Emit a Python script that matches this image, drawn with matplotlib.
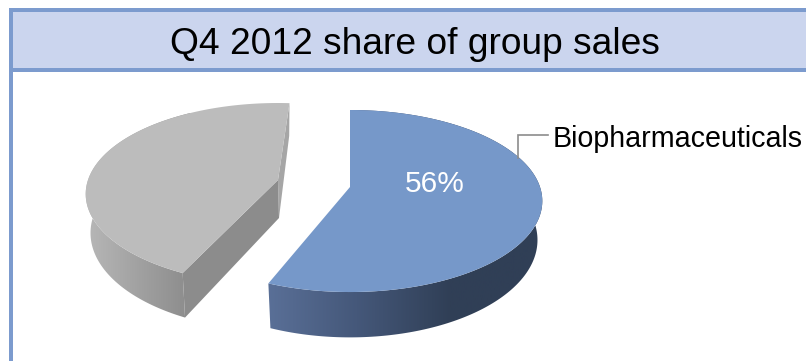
import numpy as np
import matplotlib
matplotlib.use("Agg")
import matplotlib.pyplot as plt
from matplotlib.colors import LinearSegmentedColormap
from matplotlib.patches import Polygon, Rectangle

plt.rcParams["font.family"] = ["Liberation Sans", "DejaVu Sans"]

title = "Q4 2012 share of group sales"
segment_name = "Biopharmaceuticals"
shares = [56, 44]
share_labels = ["56%"]

# ===== pie geometry, in pixels =====
RX, RY, TILT = 190.0, 88.85, 0.154
DEPTH, DEPTH_X, DEPTH_Y = 38.0, 0.975, 1.07


def rim(theta, cx, cy, lower=False):
    # perspective ellipse; lower=True gives the underside of the disc
    t = np.radians(theta)
    u, v = np.cos(t), np.sin(t)
    w = 1 + TILT * v
    dx, dy = RX * u / w, -RY * v / w
    if lower:
        return cx + dx * DEPTH_X, cy + DEPTH + dy * DEPTH_Y
    return cx + dx, cy + dy


def arc(a, b, cx, cy, lower=False):
    x, y = rim(np.linspace(a, b, 200), cx, cy, lower)
    return np.column_stack([x, y])


def gradient_fill(ax, pts, colors, x0, x1):
    # horizontal colour ramp clipped to a polygon
    cmap = LinearSegmentedColormap.from_list("side", colors)
    poly = Polygon(pts, closed=True, facecolor="none", edgecolor="none")
    ax.add_patch(poly)
    img = ax.imshow(np.linspace(0, 1, 256)[None, :], cmap=cmap, aspect="auto",
                    extent=[x0, x1, 361, 0], zorder=1)
    img.set_clip_path(poly)


fig = plt.figure(figsize=(8.06, 3.61), dpi=100)
ax = fig.add_axes([0, 0, 1, 1])

# ===== blue slice =====
blue_c = (350.0, 187.0)
blue_start = 90.0
blue_end = blue_start - shares[0] / sum(shares) * 360
blue_side = np.vstack([arc(blue_start, blue_end, *blue_c),
                       arc(blue_end, blue_start, *blue_c, lower=True)])
gradient_fill(ax, blue_side, ["#5b7199", "#45587a", "#303f56", "#303f56"], 262, 545)
blue_top = np.vstack([[blue_c], arc(blue_start, blue_end, *blue_c)])
ax.add_patch(Polygon(blue_top, closed=True, facecolor="#7698c9", edgecolor="none", zorder=3))

# ===== grey slice =====
grey_c = (278.0, 180.0)
grey_start = 86.0
grey_end = grey_start + shares[1] / sum(shares) * 360
grey_side = np.vstack([arc(grey_start, grey_end, *grey_c),
                       arc(grey_end, grey_start, *grey_c, lower=True)])
gradient_fill(ax, grey_side, ["#b8b8b8", "#8c8c8c"], 84, 190)

p_top = rim(grey_start, *grey_c)
p_end = rim(grey_end, *grey_c)
ax.add_patch(Polygon([p_top, grey_c, (grey_c[0] + 1, grey_c[1] + DEPTH),
                      rim(grey_start, *grey_c, lower=True)],
                     closed=True, facecolor="#a6a6a6", edgecolor="none", zorder=2))
ax.add_patch(Polygon([grey_c, p_end, rim(grey_end, *grey_c, lower=True),
                      (grey_c[0] + 1, grey_c[1] + DEPTH)],
                     closed=True, facecolor="#8c8c8c", edgecolor="none", zorder=2))
grey_top = np.vstack([[grey_c], arc(grey_start, grey_end, *grey_c)])
ax.add_patch(Polygon(grey_top, closed=True, facecolor="#bcbcbc", edgecolor="none", zorder=3))

# ===== title band and frame =====
ax.add_patch(Rectangle((11, 10), 795, 60, facecolor="#cbd5ee", edgecolor="none", zorder=4))
frame = "#7c9bce"
ax.add_patch(Rectangle((9, 7.5), 797, 4, facecolor=frame, edgecolor="none", zorder=5))
ax.add_patch(Rectangle((9, 68), 797, 4, facecolor=frame, edgecolor="none", zorder=5))
ax.add_patch(Rectangle((9, 7.5), 4, 354, facecolor=frame, edgecolor="none", zorder=5))
ax.text(414.5, 44, title, fontsize=26.7, color="black", ha="center", va="center", zorder=6)

# ===== labels =====
ax.plot([518, 518, 548], [158, 135, 135], color="#8c8c8c", lw=1.2, zorder=4,
        solid_joinstyle="miter")
ax.text(553, 139, segment_name, fontsize=20.6, color="black", ha="left", va="center", zorder=6)
ax.text(434.5, 183.5, share_labels[0], fontsize=21.5, color="white", ha="center", va="center", zorder=6)

ax.set_xlim(0, 806)
ax.set_ylim(361, 0)
ax.axis("off")
fig.savefig("out.png", dpi=100)
